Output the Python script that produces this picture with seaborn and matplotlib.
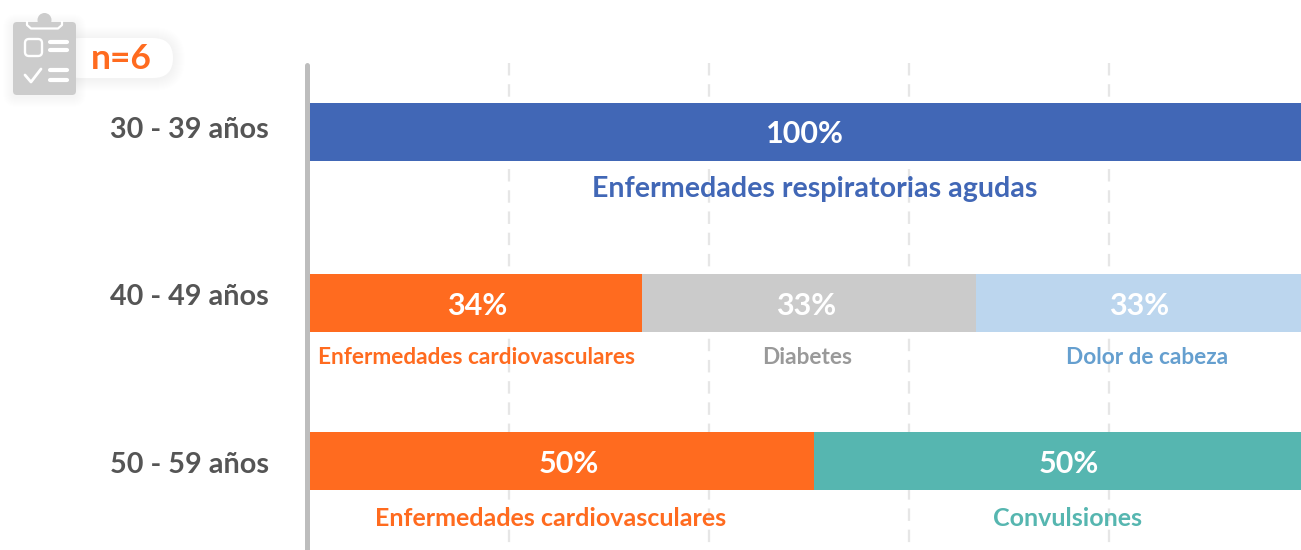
import pandas as pd
import matplotlib
matplotlib.use('Agg')
import matplotlib.pyplot as plt
from matplotlib.patches import FancyBboxPatch, Circle
import seaborn as sns

# data
age_groups = ['30 - 39 años', '40 - 49 años', '50 - 59 años']
row_age = [0, 1, 1, 1, 2, 2]
diseases = ['Enfermedades respiratorias agudas', 'Enfermedades cardiovasculares', 'Diabetes',
            'Dolor de cabeza', 'Enfermedades cardiovasculares', 'Convulsiones']
widths = [100, 33.3, 33.4, 33.3, 50.5, 49.5]
shown = ['100%', '34%', '33%', '33%', '50%', '50%']

colors = {'Convulsiones': '#56b6b0', 'Dolor de cabeza': '#bcd6ee', 'Diabetes': '#cbcbcb',
          'Enfermedades respiratorias agudas': '#4167b6', 'Enfermedades cardiovasculares': '#ff6b1f'}
text_colors = {'Convulsiones': '#56b6b0', 'Dolor de cabeza': '#659fcf', 'Diabetes': '#999999',
               'Enfermedades respiratorias agudas': '#4167b6', 'Enfermedades cardiovasculares': '#ff6b1f'}

# layout, in pixels of the 1301x550 picture
row_y = [132, 303, 461]
age_y = [130, 297, 465]
pct_x = [805, 477, 806, 1139, 569, 1069]
pct_y = [134, 306, 306, 306, 464, 464]
name_x = [815, 477, 807, 1147, 551, 1068]
name_y = [189, 358, 358, 358, 519, 519]
name_size = [20.6, 16.3, 16.3, 16.3, 18, 18]

plt.rcParams['font.family'] = ['Lato', 'DejaVu Sans']

df = pd.DataFrame({'row': [row_y[i] for i in row_age], 'disease': diseases, 'width': widths})
df['end'] = df.groupby('row')['width'].cumsum()

fig = plt.figure(figsize=(13.01, 5.5), dpi=100)
ax = fig.add_axes([0, 0, 1, 1])

# gridlines behind the bars
lw = 1.66
ax.vlines([20, 40, 60, 80], 63, 550, color='#e6e6e6', lw=lw, linestyle=(0, (5.4, 3.8)), zorder=0)

# the cumulative bars are drawn longest first, so the shorter ones sit on top
sns.barplot(data=df, x='end', y='row', hue='disease', orient='y', native_scale=True,
            hue_order=list(colors), palette=colors, dodge=False, width=58 / 158,
            saturation=1, errorbar=None, legend=False, linewidth=0, ax=ax, zorder=2)
ax.set_xlim(-30.9, 99.2)
ax.set_ylim(550, 0)
ax.axis('off')

# overlay in pixel coordinates for text and the icon
ov = fig.add_axes([0, 0, 1, 1])
ov.set_xlim(0, 1301)
ov.set_ylim(550, 0)
ov.axis('off')
ov.patch.set_alpha(0)

ov.plot([306.6, 306.6], [65, 560], color='#bdbdbd', lw=3.6, solid_capstyle='round')

for label, y in zip(age_groups, age_y):
    ov.text(269, y, label, ha='right', va='center', fontsize=20.7, fontweight='bold', color='#555555')

for i in range(len(shown)):
    ov.text(pct_x[i], pct_y[i], shown[i], ha='center', va='center', fontsize=22, fontweight='bold', color='white')
    ov.text(name_x[i], name_y[i], diseases[i], ha='center', va='center', fontsize=name_size[i],
            fontweight='bold', color=text_colors[diseases[i]])

# pill with a soft shadow
for grow in range(12, 0, -1):
    ov.add_patch(FancyBboxPatch((60 - grow, 38 - grow + 1), 113 + 2 * grow, 40 + 2 * grow,
                                boxstyle=f'round,pad=0,rounding_size={20 + grow}',
                                fc='black', ec='none', alpha=0.004))
ov.add_patch(FancyBboxPatch((60, 38), 113, 40, boxstyle='round,pad=0,rounding_size=20', fc='white', ec='none'))
ov.text(121, 59, 'n=6', ha='center', va='center', fontsize=25.5, fontweight='bold', color='#ff6b1f')

# clipboard icon
gray = '#cccccc'
for grow in range(10, 0, -1):
    ov.add_patch(FancyBboxPatch((13 - grow, 22 - grow + 2), 63 + 2 * grow, 73 + 2 * grow,
                                boxstyle=f'round,pad=0,rounding_size={4 + grow}',
                                fc='black', ec='none', alpha=0.004))
ov.add_patch(FancyBboxPatch((13, 22), 63, 73, boxstyle='round,pad=0,rounding_size=4', fc=gray, ec='none'))
ov.add_patch(Circle((44.5, 20), 7, fc=gray, ec='none'))
ov.plot([27, 27, 31, 58, 62, 62], [22, 25, 28.5, 28.5, 25, 22], color='white', lw=1.6, solid_joinstyle='round')
ov.add_patch(FancyBboxPatch((25, 39), 17, 17, boxstyle='round,pad=0,rounding_size=4', fc=gray, ec='white', lw=1.7))
for x0, y0 in [(50, 42), (50, 50), (50, 70), (50, 80)]:
    ov.plot([x0, x0 + 17], [y0, y0], color='white', lw=3, solid_capstyle='round')
ov.plot([25, 31, 41], [75, 82, 69], color='white', lw=2, solid_capstyle='round', solid_joinstyle='round')

fig.savefig('out.png', dpi=100)
